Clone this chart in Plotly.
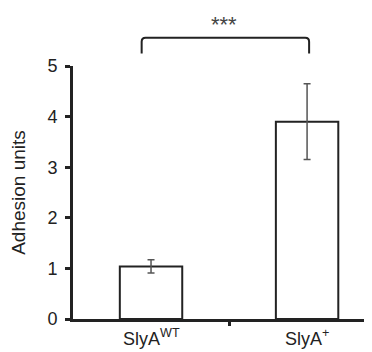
import plotly.graph_objects as go

categories = ["SlyA<sup>WT</sup>", "SlyA<sup>+</sup>"]
cat_pos = [0, 1]
values = [1.04, 3.90]
errors = [0.13, 0.75]
y_ticks = [0, 1, 2, 3, 4, 5]
sig_label = "***"

FONT = "Liberation Sans, Arial, Helvetica, sans-serif"
DARK = "#222222"

fig = go.Figure()
fig.add_trace(go.Bar(
    x=cat_pos, y=values, width=0.4,
    marker=dict(color="white", line=dict(color=DARK, width=2)),
    error_y=dict(type="data", array=errors, visible=True,
                 color="#555555", thickness=1.5, width=3.5),
    showlegend=False,
))

# category labels below the axis
for xp, lab in zip(cat_pos, categories):
    fig.add_annotation(x=xp, y=-0.074, xref="x", yref="paper", text=lab,
                       showarrow=False, yanchor="middle",
                       font=dict(family=FONT, size=18, color="#222222"))

# significance bracket (x in data units, y in paper units above plot)
x0, x1 = -0.06, 1.013
yb, yt = 1.049, 1.112
rx, ry = 0.025, 0.016
path = (f"M {x0},{yb} L {x0},{yt-ry} Q {x0},{yt} {x0+rx},{yt} "
        f"L {x1-rx},{yt} Q {x1},{yt} {x1},{yt-ry} L {x1},{yb}")
fig.add_shape(type="path", path=path, xref="x", yref="paper",
              line=dict(color=DARK, width=2))
fig.add_annotation(x=0.466, y=1.165, xref="x", yref="paper",
                   text=sig_label, showarrow=False, yanchor="middle",
                   font=dict(family=FONT, size=22, color="#444444"))

fig.update_layout(
    width=364, height=344,
    margin=dict(l=65, r=0, t=58, b=33),
    paper_bgcolor="white", plot_bgcolor="white",
    font=dict(family=FONT, color="#222222"),
    xaxis=dict(
        range=[-0.5, 1.416], tickmode="array", tickvals=cat_pos,
        showticklabels=False, ticks="", showline=True, linecolor=DARK,
        linewidth=3, showgrid=False, zeroline=False,
        minor=dict(tickmode="array", tickvals=[0.5], ticks="outside",
                   ticklen=4, tickwidth=3, tickcolor=DARK),
    ),
    yaxis=dict(
        range=[0, 5], tickmode="array", tickvals=y_ticks,
        ticks="outside", ticklen=5, tickwidth=3, tickcolor=DARK,
        showline=True, linecolor=DARK, linewidth=3, showgrid=False,
        zeroline=False, tickfont=dict(size=18, family=FONT),
        ticklabelstandoff=4,
        title=dict(text="Adhesion units", font=dict(size=19, family=FONT),
                   standoff=18),
    ),
)

fig.write_html("out.html")
